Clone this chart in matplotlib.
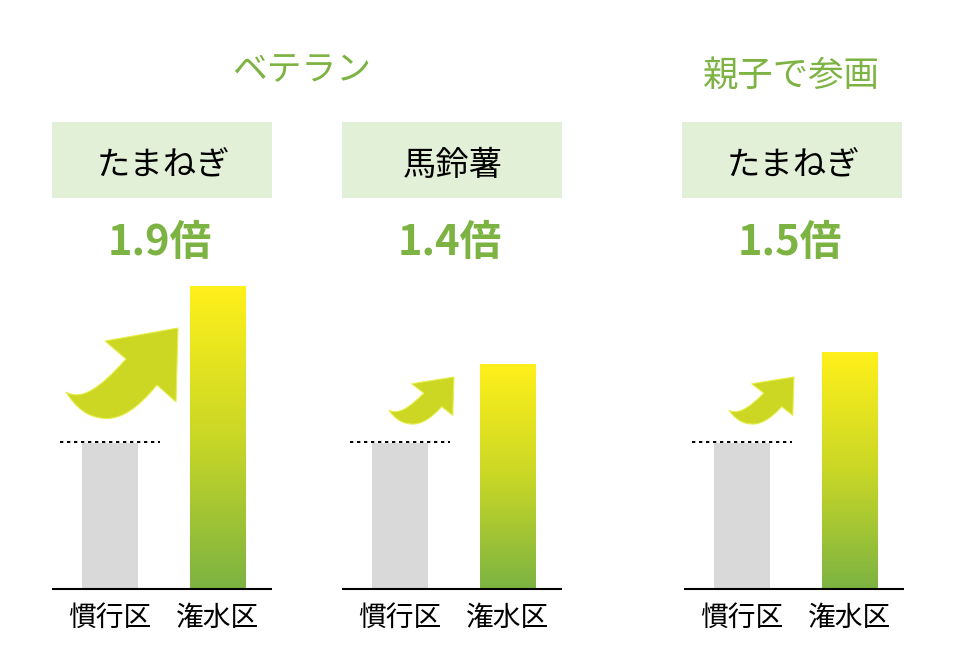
import numpy as np
import matplotlib
matplotlib.use('Agg')
import matplotlib.pyplot as plt
from matplotlib.colors import LinearSegmentedColormap
from matplotlib.patches import PathPatch, Rectangle
from matplotlib.path import Path
from matplotlib.transforms import Affine2D

plt.rcParams['font.family'] = ['Noto Sans CJK JP', 'DejaVu Sans']

# values, control plot = 1 (bar heights)
crops = ['たまねぎ', '馬鈴薯', 'たまねぎ']
ratio_labels = ['1.9倍', '1.4倍', '1.5倍']
categories = ['慣行区', '潅水区']
control = [1.0, 1.0, 1.0]
irrigated = [2.07, 1.54, 1.62]
groups = ['ベテラン', '親子で参画']

W, H = 956, 668
GREEN = '#7cb342'
grad = LinearSegmentedColormap.from_list('g', ['#7cb342', '#c9d726', '#fff01a'])

fig = plt.figure(figsize=(W / 100, H / 100), dpi=100)
px = Affine2D().scale(1 / W, -1 / H).translate(0, 1) + fig.transFigure


def arrow(x0, y0, sx, sy):
    # curved arrow, outline in pixels for the biggest one
    v = [(66, 392), (82, 401), (100, 388), (126, 359), (105, 341), (178, 328),
         (176, 402), (157, 385), (138, 408), (122, 419), (106, 418.5),
         (88, 418), (76, 408), (66, 392)]
    c = [Path.MOVETO, Path.CURVE4, Path.CURVE4, Path.CURVE4, Path.LINETO, Path.LINETO,
         Path.LINETO, Path.LINETO, Path.CURVE4, Path.CURVE4, Path.CURVE4,
         Path.CURVE4, Path.CURVE4, Path.CURVE4]
    pts = [(x0 + (x - 66) * sx, y0 + (y - 328) * sy) for x, y in v]
    fig.add_artist(PathPatch(Path(pts, c), fc='#cbd722', ec='#e8ee50', lw=0.8, transform=px))


boxes = [52, 342, 682]
lefts = [52, 342, 684]
arrows = [(66, 328, 1.0, 1.0), (389, 377, 0.58, 0.52), (729, 377, 0.58, 0.52)]

for i, left in enumerate(lefts):
    # axes reach from the baseline to the top of the figure, 146 px = 1.0
    ax = fig.add_axes([left / W, (H - 589) / H, 220 / W, 589 / H])
    ax.bar(0, control[i], width=56 / 108, color='#d9d9d9')
    b = ax.bar(1, irrigated[i], width=56 / 108, color='none')[0]
    yy = np.linspace(1, 0, 256).reshape(-1, 1)
    ax.imshow(yy, cmap=grad, vmin=0, vmax=1, aspect='auto', zorder=2,
              extent=[b.get_x(), b.get_x() + b.get_width(), 0, irrigated[i]])
    ax.set_xlim(-58 / 108, 162 / 108)
    ax.set_ylim(0, 589 / 146)
    ax.plot([-50 / 108, 50 / 108], [control[i] + 0.007, control[i] + 0.007], color='k', lw=1.4,
            linestyle=(0, (1.7, 1.9)), zorder=3)
    ax.patch.set_alpha(0)
    for s in ['top', 'left', 'right']:
        ax.spines[s].set_visible(False)
    ax.spines['bottom'].set_linewidth(1.5)
    ax.spines['bottom'].set_capstyle('butt')
    ax.set_yticks([])
    ax.set_xticks([0, 1], categories, fontsize=20)
    ax.tick_params(axis='x', length=0, pad=10)

    fig.add_artist(Rectangle((boxes[i], 122), 220, 76, fc='#e3f0d8', ec='none', transform=px))
    fig.text((boxes[i] + 111) / W, 1 - 165 / H, crops[i], fontsize=24, color='k',
             ha='center', va='center')
    fig.text((boxes[i] + 108) / W, 1 - 243 / H, ratio_labels[i], fontsize=30, color=GREEN,
             fontweight='bold', ha='center', va='center')
    arrow(*arrows[i])

fig.text(302 / W, 1 - 70 / H, groups[0], fontsize=25, color=GREEN, ha='center', va='center')
fig.text(791 / W, 1 - 76 / H, groups[1], fontsize=25.5, color=GREEN, ha='center', va='center')

fig.savefig('out.png', dpi=100, facecolor='white')
